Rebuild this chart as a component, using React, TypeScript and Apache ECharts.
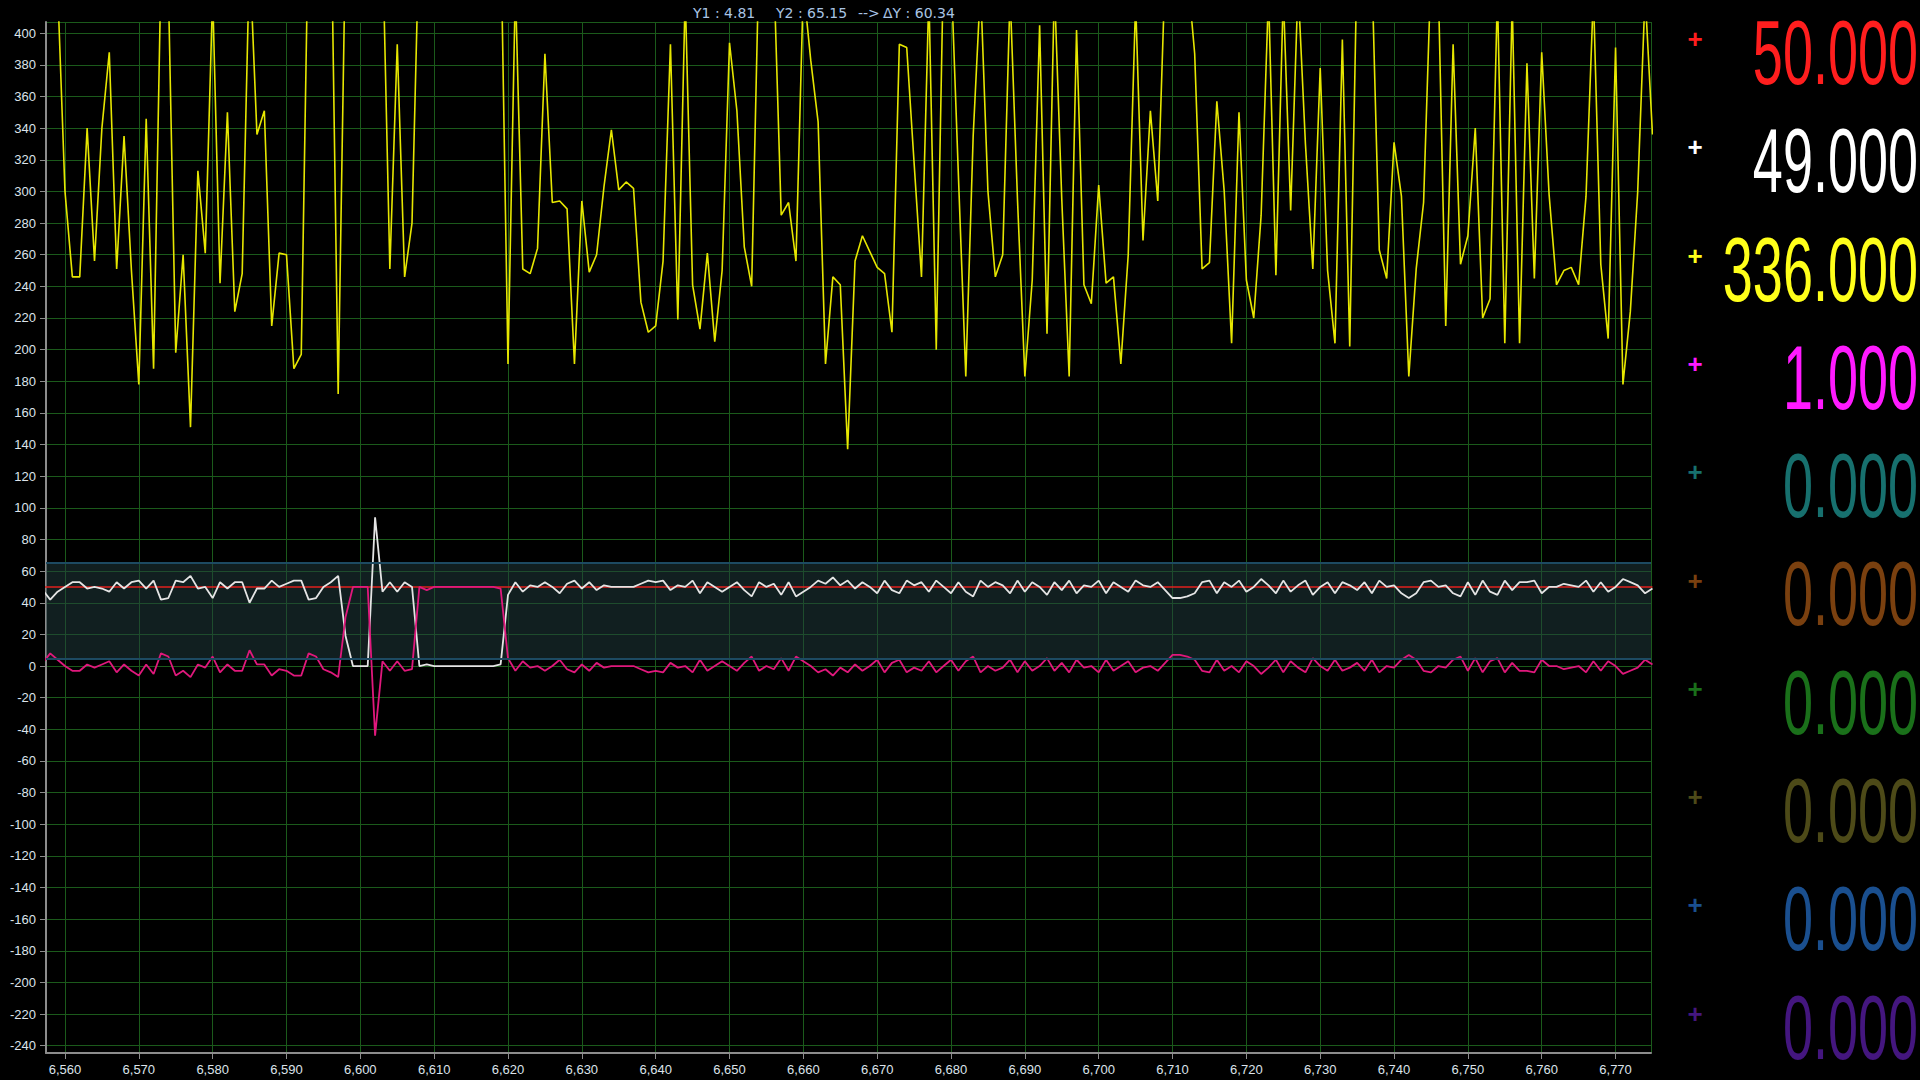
import React, { useEffect, useRef } from "react";
import * as echarts from "echarts";

// ---- data ----
const X_START = 6557; // sample index of the first value
const X_MIN = 6557.43;
const X_MAX = 6774.8;
const Y_MIN = -244.6;
const Y_MAX = 407.1;

// yellow channel (off-scale peaks are above the plot top)
const YELLOW: number[] = [
  460, 450, 430, 300, 246, 246, 340, 256, 340, 388, 251, 335, 250, 178, 346, 188, 440, 430, 198, 260,
  151, 313, 261, 425, 242, 350, 224, 248, 450, 336, 351, 215, 261, 260, 188, 197, 480, 500, 470, 490,
  172, 460, 500, 480, 470, 490, 460, 251, 393, 246, 280, 470, 500, 480, 490, 470, 500, 480, 490, 470,
  480, 500, 470, 191, 430, 251, 248, 264, 387, 293, 294, 289, 191, 294, 249, 260, 303, 339, 301, 306,
  302, 230, 211, 215, 256, 393, 219, 425, 241, 213, 261, 205, 250, 394, 351, 265, 240, 450, 470, 440,
  285, 293, 256, 430, 383, 344, 191, 246, 241, 137, 256, 272, 262, 252, 248, 211, 393, 391, 318, 246,
  425, 200, 450, 440, 310, 183, 335, 430, 300, 246, 260, 425, 295, 183, 244, 405, 210, 430, 295, 183,
  402, 241, 229, 304, 242, 246, 191, 260, 420, 269, 351, 294, 440, 470, 460, 440, 387, 251, 255, 357,
  300, 204, 350, 244, 220, 285, 425, 247, 425, 288, 430, 330, 251, 378, 250, 204, 396, 202, 450, 470,
  440, 263, 245, 331, 297, 183, 251, 293, 440, 430, 215, 393, 254, 272, 340, 220, 232, 425, 204, 420,
  204, 381, 245, 388, 298, 241, 250, 252, 241, 297, 425, 254, 207, 391, 178, 224, 300, 425, 336,
];

// white channel (measured value)
const WHITE: number[] = [
  48, 42, 47, 50, 53, 53, 49, 50, 49, 47, 53, 49, 53, 54, 49, 54, 42, 43, 54, 53,
  57, 49, 50, 43, 53, 49, 53, 53, 40, 49, 49, 54, 50, 52, 54, 54, 42, 43, 50, 53,
  57, 19, 0, 0, 0, 94, 47, 53, 47, 53, 50, 0, 1, 0, 0, 0, 0, 0, 0, 0,
  0, 0, 1, 45,
  53, 47, 51, 50, 53, 50, 46, 52, 54, 49, 53, 48, 51, 50, 50, 50, 50, 52, 54, 53,
  54, 48, 51, 50, 54, 46, 53, 50, 47, 50, 53, 48, 44, 53, 50, 52, 45, 53, 44, 47,
  50, 54, 52, 56, 51, 54, 49, 53, 50, 46, 54, 48, 46, 54, 51, 53, 47, 54, 50, 46,
  53, 47, 44, 54, 50, 53, 51, 46, 54, 47, 53, 50, 45, 53, 48, 54, 46, 51, 50, 54,
  46, 53, 50, 47, 54, 51, 50, 53, 48, 43, 43, 44, 46, 53, 54, 46, 53, 50, 54, 47,
  50, 55, 51, 46, 54, 47, 51, 54, 45, 50, 53, 46, 53, 51, 48, 53, 46, 54, 50, 51,
  46, 43, 46, 53, 54, 50, 51, 46, 44, 53, 45, 54, 47, 45, 54, 48, 53, 53, 54, 46,
  50, 50, 52, 51, 50, 54, 47, 53, 47, 50, 55, 53, 51, 46, 49,
];

// magenta channel (setpoint minus measured)
const MAGENTA: number[] = [
  2, 8, 4, 0, -3, -3, 1, -1, 1, 3, -4, 1, -3, -6, 1, -5, 8, 6, -6, -3,
  -7, 1, -1, 6, -4, 1, -3, -3, 10, 1, 1, -6, -2, -3, -6, -6, 8, 6, -2, -4,
  -7, 31, 50, 50, 50, -44, 3, -3, 3, -3, -2, 50, 48, 50, 50, 50, 50, 50, 50, 50,
  50, 50, 49, 5,
  -3, 3, -1, 0, -3, 0, 4, -2, -4, 1, -3, 2, -1, 0, 0, 0, 0, -2, -4, -3,
  -4, 2, -1, 0, -4, 4, -3, 0, 3, 0, -3, 2, 6, -3, 0, -2, 5, -3, 6, 3,
  0, -4, -2, -6, -1, -4, 1, -3, 0, 4, -4, 2, 4, -4, -1, -3, 3, -4, 0, 4,
  -3, 3, 6, -4, 0, -3, -1, 4, -4, 3, -3, 0, 5, -3, 2, -4, 4, -1, 0, -4,
  4, -3, 0, 3, -4, -1, 0, -3, 2, 7, 7, 6, 4, -3, -4, 4, -3, 0, -4, 3,
  0, -5, -1, 4, -4, 3, -1, -4, 5, 0, -3, 4, -3, -1, 2, -3, 4, -4, 0, -1,
  4, 7, 4, -3, -4, 0, -1, 4, 6, -3, 5, -4, 3, 5, -4, 2, -3, -3, -4, 4,
  0, 0, -2, -1, 0, -4, 3, -3, 3, 0, -5, -3, -1, 4, 1,
];

const RED_SETPOINT = 50;
const CURSOR_Y1 = 4.81;
const CURSOR_Y2 = 65.15;
const HEADER_PARTS = ["Y1 : 4.81", "Y2 : 65.15", "-->", "\u0394Y : 60.34"];
const HEADER_X = [693, 776, 858, 883];

const READOUT_VALUES = ["50.000", "49.000", "336.000", "1.000", "0.000", "0.000", "0.000", "0.000", "0.000", "0.000"];
const READOUT_COLORS = ["#ff1e1e", "#ffffff", "#ffff1a", "#ff1aff", "#17706e", "#7a400f", "#1a701a", "#4d4a18", "#1a4f8f", "#44167f"];

const toPairs = (arr: number[]) => arr.map((v, i) => [X_START + i, v]);

export default function App() {
  const ref = useRef<HTMLDivElement>(null);

  useEffect(() => {
    document.body.style.margin = "0";
    document.body.style.background = "#000";
    const chart = echarts.init(ref.current as HTMLDivElement, null, { renderer: "svg" });

    const font = "'Liberation Sans', Arial, sans-serif";
    const graphics: any[] = [];
    HEADER_PARTS.forEach((t, i) => {
      graphics.push({
        type: "text",
        x: HEADER_X[i],
        y: 13,
        style: { text: t, fill: "#a9c4e4", font: `14px 'DejaVu Sans', sans-serif`, verticalAlign: "middle" },
      });
    });
    READOUT_VALUES.forEach((val, i) => {
      graphics.push({
        type: "text",
        x: 1695,
        y: 39 + 108.3 * i,
        style: { text: "+", fill: READOUT_COLORS[i], font: `bold 26px ${font}`, align: "center", verticalAlign: "middle" },
      });
      graphics.push({
        type: "text",
        x: 1918,
        y: 53 + 108.3 * i,
        scaleX: 0.6,
        style: { text: val, fill: READOUT_COLORS[i], font: `90px ${font}`, align: "right", verticalAlign: "middle" },
      });
    });

    const axisGray = "#8c8c8c";
    const gridGreen = "#1b5a1b";

    chart.setOption({
      animation: false,
      backgroundColor: "#000",
      grid: { left: 46, right: 269, top: 22, bottom: 27, containLabel: false },
      xAxis: {
        type: "value",
        min: X_MIN,
        max: X_MAX,
        minInterval: 10,
        maxInterval: 10,
        splitNumber: 22,
        axisLine: { show: true, onZero: false, lineStyle: { color: axisGray, width: 2 } },
        axisTick: { show: true, length: 6, lineStyle: { color: axisGray } },
        axisLabel: { color: "#dce3ea", fontSize: 13, fontFamily: font, margin: 10, showMinLabel: false, showMaxLabel: false },
        splitLine: { show: true, lineStyle: { color: gridGreen, width: 1 } },
      },
      yAxis: {
        type: "value",
        min: Y_MIN,
        max: Y_MAX,
        minInterval: 20,
        maxInterval: 20,
        splitNumber: 33,
        axisLine: { show: true, onZero: false, lineStyle: { color: axisGray, width: 2 } },
        axisTick: { show: true, length: 6, lineStyle: { color: axisGray } },
        axisLabel: { color: "#dce3ea", fontSize: 13, fontFamily: font, margin: 10, showMinLabel: false, showMaxLabel: false },
        splitLine: { show: true, lineStyle: { color: gridGreen, width: 1 } },
      },
      series: [
        {
          type: "line",
          name: "setpoint",
          data: [
            [X_START, RED_SETPOINT],
            [X_START + YELLOW.length - 1, RED_SETPOINT],
          ],
          showSymbol: false,
          lineStyle: { color: "#e0201c", width: 1.6 },
          z: 2,
          silent: true,
          markArea: {
            silent: true,
            itemStyle: { color: "rgba(34,62,64,0.5)" },
            data: [[{ yAxis: CURSOR_Y1 }, { yAxis: CURSOR_Y2 }]],
          },
          markLine: {
            silent: true,
            symbol: "none",
            label: { show: false },
            lineStyle: { color: "#1d4a62", width: 2, type: "solid" },
            data: [{ yAxis: CURSOR_Y1 }, { yAxis: CURSOR_Y2 }],
          },
        },
        {
          type: "line",
          name: "measured",
          data: toPairs(WHITE),
          showSymbol: false,
          lineStyle: { color: "#e4e4e4", width: 1.8 },
          z: 3,
        },
        {
          type: "line",
          name: "error",
          data: toPairs(MAGENTA),
          showSymbol: false,
          lineStyle: { color: "#e0187c", width: 1.8 },
          z: 4,
        },
        {
          type: "line",
          name: "raw",
          data: toPairs(YELLOW),
          showSymbol: false,
          lineStyle: { color: "#e6e600", width: 1.6 },
          z: 5,
        },
      ],
      graphic: graphics,
    });

    return () => chart.dispose();
  }, []);

  return <div ref={ref} style={{ width: 1920, height: 1080, background: "#000" }} />;
}
